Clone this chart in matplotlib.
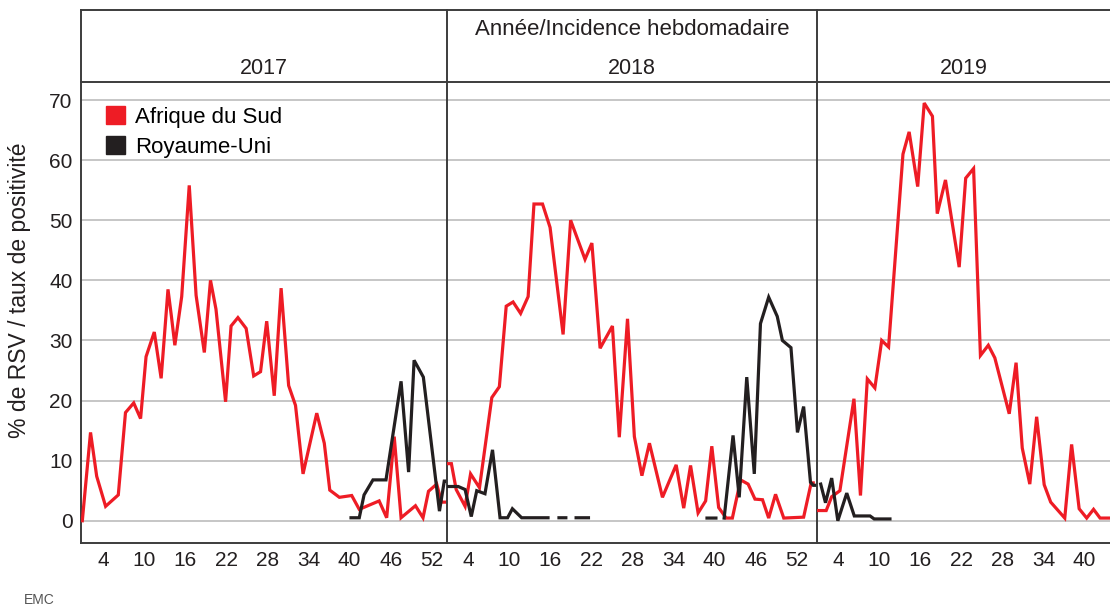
import matplotlib.pyplot as plt
from matplotlib.patches import Patch
import numpy as np

plt.rcParams['font.family'] = ['Liberation Sans', 'DejaVu Sans']

# data: week position (as drawn) and % positivity
years = ['2017', '2018', '2019']
header_title = 'Année/Incidence hebdomadaire'
ylabel = '% de RSV / taux de positivité'
series_names = ['Afrique du Sud', 'Royaume-Uni']

sa_2017_w = [1.0, 2.2, 3.1, 4.4, 6.25, 7.3, 8.5, 9.5, 10.3, 11.5, 12.5, 13.5, 14.0, 14.5, 15.5, 16.6,
             17.6, 18.8, 19.7, 20.5, 21.9, 22.7, 23.7, 24.9, 26.0, 27.0, 27.9, 29.0, 30.0, 31.1,
             32.1, 33.2, 35.2, 36.3, 37.1, 38.5, 40.3, 41.4, 44.3, 45.4, 46.5, 47.5, 49.6, 50.7,
             51.5, 52.7, 53.4, 54.1]
sa_2017 = [0, 14.7, 7.4, 2.4, 4.3, 18, 19.6, 17, 27.3, 31.4, 23.7, 38.5, 34, 29.2, 37.3, 55.8,
           37.5, 28, 40, 35.2, 19.8, 32.4, 33.8, 32, 24.1, 24.8, 33.2, 20.8, 38.7, 22.5,
           19.2, 7.8, 17.9, 12.9, 5.1, 3.9, 4.2, 1.9, 3.3, 0.5, 14, 0.5, 2.5, 0.5,
           4.9, 6.1, 3.1, 3.1]

uk_2017_w = [40.2, 41.4, 42.1, 43.4, 45.3, 47.5, 48.6, 49.4, 50.75, 53.1, 53.8, 54.1]
uk_2017 = [0.5, 0.5, 4.3, 6.8, 6.8, 23.2, 8.1, 26.7, 23.9, 1.6, 6.6, 6.6]

sa_2018_w = [1.0, 1.6, 2.3, 3.6, 4.4, 5.7, 7.5, 8.6, 9.6, 10.6, 11.7, 12.8, 13.65, 14.9, 16.0,
             17.9, 19.0, 21.1, 22.1, 23.3, 25.1, 26.1, 27.3, 28.3, 29.4, 30.5, 32.4, 34.4, 35.5,
             36.5, 37.6, 38.7, 39.6, 40.6, 41.7, 42.6, 43.8, 44.9, 45.9, 47.0, 47.9, 48.9, 50.1,
             53.0, 54.1, 54.4]
sa_2018 = [9.5, 9.5, 5.2, 2.4, 7.8, 5.5, 20.5, 22.3, 35.7, 36.4, 34.5, 37.3, 52.7, 52.7, 48.8,
           31, 50, 43.5, 46.2, 28.7, 32.4, 13.9, 33.6, 14, 7.5, 12.9, 3.9, 9.3, 2.1,
           9.2, 1.3, 3.3, 12.4, 2.2, 0.45, 0.45, 6.8, 6.1, 3.6, 3.5, 0.45, 4.4, 0.45,
           0.6, 6.3, 6.3]

uk_2018_w = [1.0, 2.6, 3.6, 4.5, 5.3, 6.5, 7.6, 8.7, 9.8, 10.5, 11.85, 15.7, 16.5,
             17.3, 18.3, 19.0, 19.8, 21.6, 30.0, 38.9, 40.2, 40.8,
             41.4, 42.7, 43.6, 44.7, 45.8, 46.7, 47.9, 49.15, 49.9, 51.15, 52.1, 53.0,
             54.0, 54.4, 54.9]
uk_2018 = [5.7, 5.7, 5.2, 0.7, 5.0, 4.5, 11.8, 0.5, 0.5, 2.0, 0.5, 0.5, np.nan,
           0.5, 0.5, np.nan, 0.5, 0.5, np.nan, 0.45, 0.45, np.nan,
           0.45, 14.2, 3.9, 23.9, 7.8, 32.8, 37.2, 34, 30, 28.8, 14.7, 19,
           6.4, 5.9, 5.9]

sa_2019_w = [1.0, 2.3, 3.1, 4.3, 6.35, 7.3, 8.3, 9.4, 10.4, 11.4, 13.5, 14.4, 15.65, 16.6,
             17.8, 18.5, 19.7, 21.7, 22.65, 23.8, 24.8, 25.95, 26.9, 29.0, 30.0, 30.9, 32.0,
             33.0, 34.1, 35.05, 37.1, 38.1, 39.2, 40.3, 41.3, 42.25, 43.8]
sa_2019 = [1.7, 1.7, 4.0, 5.0, 20.3, 4.2, 23.6, 22.1, 30, 28.9, 61, 64.7, 55.6, 69.5,
           67.3, 51.1, 56.7, 42.2, 57, 58.6, 27.5, 29.2, 27.1, 17.8, 26.3, 12.1, 6.1,
           17.3, 6.0, 3.1, 0.45, 12.7, 2.0, 0.45, 1.9, 0.45, 0.45]

uk_2019_w = [1.5, 2.2, 3.1, 4.0, 5.3, 6.4, 8.7, 9.3, 11.6]
uk_2019 = [6.1, 3.0, 7.1, 0, 4.6, 0.8, 0.8, 0.3, 0.3]

xticks = [[4, 10, 16, 22, 28, 34, 40, 46, 52],
          [4, 10, 16, 22, 28, 34, 40, 46, 52],
          [4, 10, 16, 22, 28, 34, 40]]
yticks = [0, 10, 20, 30, 40, 50, 60, 70]

sa_data = [(sa_2017_w, sa_2017), (sa_2018_w, sa_2018), (sa_2019_w, sa_2019)]
uk_data = [(uk_2017_w, uk_2017), (uk_2018_w, uk_2018), (uk_2019_w, uk_2019)]

RED = '#ee1c25'
BLACK = '#231f20'
EDGE = '#3c3c3c'

W, H = 1110, 608
fig = plt.figure(figsize=(W / 100, H / 100), dpi=100)

# panel edges in pixels
px_edges = [(81, 447), (447, 817), (817, 1110)]
xlims = [(0.81, 54.2), (0.96, 54.95), (0.96, 43.7)]
top_px, sep_px, bot_px = 10, 82, 543

for i in range(3):
    x0, x1 = px_edges[i]
    ax = fig.add_axes([x0 / W, (H - bot_px) / H, (x1 - x0) / W, (bot_px - sep_px) / H])
    hx = fig.add_axes([x0 / W, (H - sep_px) / H, (x1 - x0) / W, (sep_px - top_px) / H])

    w, v = sa_data[i]
    ax.plot(w, v, color=RED, lw=2.3, solid_joinstyle='miter', zorder=3)
    w, v = uk_data[i]
    ax.plot(w, v, color=BLACK, lw=2.3, solid_joinstyle='miter', zorder=3)

    ax.set_xlim(*xlims[i])
    ax.set_ylim(-3.7, 73)
    ax.set_yticks(yticks)
    ax.grid(axis='y', color='#c6c6c6', lw=1.4)
    ax.set_axisbelow(True)
    ax.set_xticks(xticks[i])
    ax.tick_params(length=0, labelsize=15, pad=6, colors=BLACK)
    if i > 0:
        ax.tick_params(axis='y', labelleft=False)
    for s in ['top', 'right']:
        ax.spines[s].set_visible(False)
    for s in ['left', 'bottom']:
        ax.spines[s].set_color(EDGE)
        ax.spines[s].set_linewidth(1.4)

    hx.set_xticks([])
    hx.set_yticks([])
    hx.spines['right'].set_visible(False)
    for s in ['left', 'top', 'bottom']:
        hx.spines[s].set_color(EDGE)
        hx.spines[s].set_linewidth(1.4)
    hx.text(0.5, 0.19, years[i], ha='center', va='center', fontsize=15.5, color=BLACK)
    if i == 1:
        hx.text(0.5, 0.73, header_title, ha='center', va='center', fontsize=16, color=BLACK)

    if i == 0:
        handles = [Patch(color=RED), Patch(color=BLACK)]
        ax.legend(handles, series_names, loc='upper left', bbox_to_anchor=(0.068, 0.948),
                  frameon=False, fontsize=16, handlelength=0.85, handleheight=0.85,
                  handletextpad=0.45, labelspacing=0.4, borderpad=0, borderaxespad=0)

fig.text(20 / W, 1 - 290 / H, ylabel, rotation=90, ha='center', va='center',
         fontsize=16.5, color=BLACK)
fig.text(39 / W, 1 - 600 / H, 'EMC', ha='center', va='center', fontsize=10,
         color='#555555', fontstretch='condensed')

fig.savefig('out.png', dpi=100)
